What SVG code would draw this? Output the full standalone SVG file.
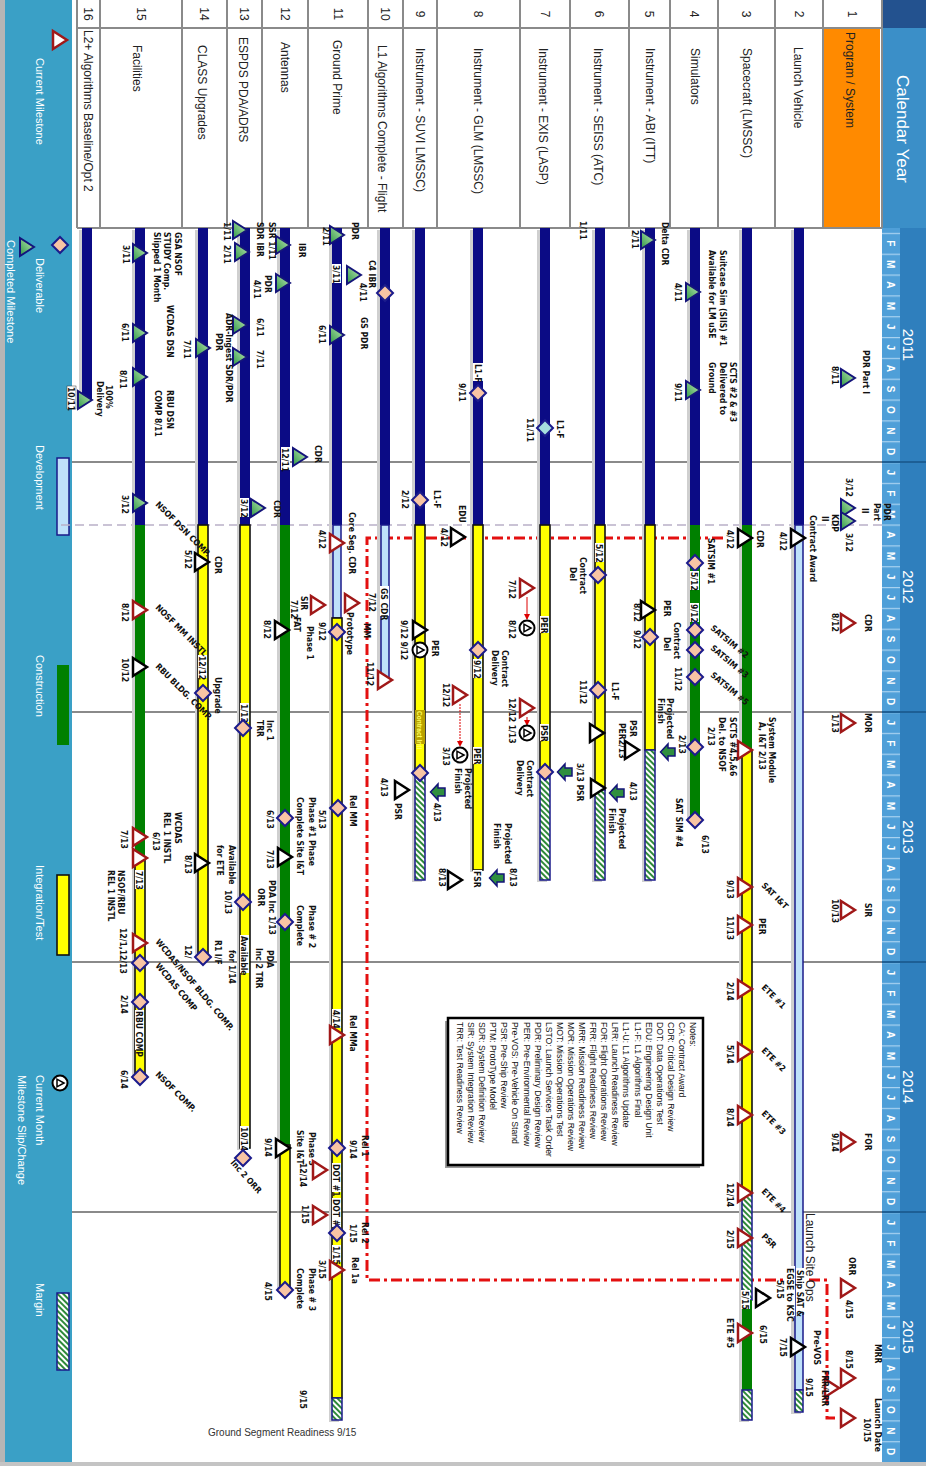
<svg xmlns="http://www.w3.org/2000/svg" xmlns:xlink="http://www.w3.org/1999/xlink" width="926" height="1466" viewBox="0 0 926 1466">
<defs>
<style>
.t{font-family:'Liberation Sans Narrow','DejaVu Sans Condensed','Liberation Sans',Arial,sans-serif;font-size:8.5px;font-weight:bold;fill:#111}
.rl{font-family:'Liberation Sans',Arial,sans-serif;font-size:12px;fill:#222}
.rn{font-family:'Liberation Sans',Arial,sans-serif;font-size:12px;fill:#222;text-anchor:middle}
.lg{font-family:'Liberation Sans Narrow','Liberation Sans',Arial,sans-serif;font-size:11px;fill:#fff}
.mo{font-family:'Liberation Sans',Arial,sans-serif;font-size:10px;font-weight:bold;fill:#fff;text-anchor:middle}
.yr{font-family:'Liberation Sans',Arial,sans-serif;font-size:15px;fill:#fff;text-anchor:middle}
.nt{font-family:'Liberation Sans',Arial,sans-serif;font-size:8.6px;fill:#111}
.nv{fill:#0b0b85}
.gr{fill:#008000}
.ye{fill:#ffff00;stroke:#111;stroke-width:1.6}
.lb{fill:#bfe1fa;stroke:#1a1a8a;stroke-width:1.5}
.ha{fill:url(#hatch);stroke:#1a1a8a;stroke-width:1.5}
.sh{fill:#cfcfcf}
.bx{fill:#fff}
.yl{stroke:#8a8a8a;stroke-width:2}
.rw{stroke:#8a8a8a;stroke-width:2}
</style>
<pattern id="hatch" patternUnits="userSpaceOnUse" width="4" height="4" patternTransform="rotate(45)"><rect width="4" height="4" fill="#fff"/><rect width="2" height="4" fill="#2f8a3a"/></pattern>
<pattern id="mp" x="212" y="26" width="20.8333" height="18" patternUnits="userSpaceOnUse"><rect width="20.8333" height="18" fill="#4f9fd8"/><rect width="1.2" height="18" fill="#a9d2f0"/></pattern>
<linearGradient id="gg" x1="0" y1="0" x2="1" y2="1"><stop offset="0" stop-color="#c4ecb8"/><stop offset="1" stop-color="#2e9846"/></linearGradient>
<g id="tg"><path d="M0,-7 L9,7 L-9,7 Z" fill="url(#gg)" stroke="#14147a" stroke-width="2"/></g>
<g id="tr"><path d="M0,-7 L9,7 L-9,7 Z" fill="#fff" stroke="#a01818" stroke-width="2.5"/></g>
<g id="tk"><path d="M0,-7 L9,7 L-9,7 Z" fill="#fff" stroke="#000" stroke-width="2.5"/></g>
<g id="dm"><path d="M0,-8 L8,0 L0,8 L-8,0 Z" fill="#f8c4a4" stroke="#1b1b8c" stroke-width="2"/></g>
<g id="dt"><path d="M0,-8 L8,0 L0,8 L-8,0 Z" fill="#a6dede" stroke="#1b1b8c" stroke-width="2"/></g>
<g id="ca"><circle r="7.5" fill="#fff" stroke="#000" stroke-width="2"/><path d="M0,-4 L3.8,3 L-3.8,3 Z" fill="none" stroke="#000" stroke-width="1.5"/></g>
<g id="ar"><path d="M-4,-7 H4 V0 H8 L0,7.5 L-8,0 H-4 Z" fill="#2f8f3f" stroke="#14147a" stroke-width="1.5"/></g>
<marker id="ra" markerWidth="6" markerHeight="6" refX="5" refY="3" orient="auto"><path d="M0,0 L6,3 L0,6 Z" fill="#d00"/></marker>
<g id="months">
<text class="mo" x="222.4" y="39">J</text><text class="mo" x="243.3" y="39">F</text><text class="mo" x="264.1" y="39">M</text><text class="mo" x="284.9" y="39">A</text><text class="mo" x="305.8" y="39">M</text><text class="mo" x="326.6" y="39">J</text><text class="mo" x="347.4" y="39">J</text><text class="mo" x="368.3" y="39">A</text><text class="mo" x="389.1" y="39">S</text><text class="mo" x="409.9" y="39">O</text><text class="mo" x="430.8" y="39">N</text><text class="mo" x="451.6" y="39">D</text>
</g>
<g id="mo11">
<text class="mo" x="243.3" y="39">F</text><text class="mo" x="264.1" y="39">M</text><text class="mo" x="284.9" y="39">A</text><text class="mo" x="305.8" y="39">M</text><text class="mo" x="326.6" y="39">J</text><text class="mo" x="347.4" y="39">J</text><text class="mo" x="368.3" y="39">A</text><text class="mo" x="389.1" y="39">S</text><text class="mo" x="409.9" y="39">O</text><text class="mo" x="430.8" y="39">N</text><text class="mo" x="451.6" y="39">D</text>
</g>
</defs>
<rect width="926" height="1466" fill="#fff"/>
<g transform="translate(926 0) rotate(90)">
<!-- legend background -->
<g id="legend">
<rect x="0" y="854" width="1466" height="67" fill="#3aa0c6"/>
<rect x="0" y="921" width="1466" height="5" fill="#b5b5b5"/>
<use href="#tr" x="40" y="866"/>
<text class="lg" x="58" y="890">Current Milestone</text>
<use href="#dm" x="245" y="866"/>
<text class="lg" x="258" y="890">Deliverable</text>
<use href="#tg" x="247" y="899"/>
<text class="lg" x="240" y="919">Completed Milestone</text>
<rect x="458" y="857" width="77" height="12" class="lb"/>
<text class="lg" x="445" y="890">Development</text>
<rect x="665" y="857" width="80" height="12" class="gr"/>
<text class="lg" x="655" y="890">Construction</text>
<rect x="875" y="857" width="80" height="12" class="ye"/>
<text class="lg" x="865" y="890">Integration/Test</text>
<use href="#ca" x="1083" y="866"/>
<text class="lg" x="1075" y="890">Current Month</text>
<text class="lg" x="1075" y="908">Milestone Slip/Change</text>
<rect x="1293" y="857" width="77" height="12" class="ha"/>
<text class="lg" x="1283" y="890">Margin</text>
</g>
<rect x="1462" y="0" width="4" height="926" fill="#c4c4c4"/>
<!-- header -->
<g id="header">
<rect x="0" y="0" width="28" height="44" fill="#23528f"/>
<rect x="28" y="0" width="200" height="44" fill="#3b8fc8"/>
<text x="75" y="29" font-family="'Liberation Sans',Arial,sans-serif" font-size="17" fill="#fff">Calendar Year</text>
<rect x="228" y="0" width="1234" height="26" fill="#2f7fbd"/>
<rect x="228" y="26" width="1234" height="18" fill="url(#mp)"/>
<path d="M462,0V44M712,0V44M962,0V44M1212,0V44" stroke="#1d5f95" stroke-width="2"/>
<text class="yr" x="345" y="23">2011</text>
<text class="yr" x="587" y="23">2012</text>
<text class="yr" x="837" y="23">2013</text>
<text class="yr" x="1087" y="23">2014</text>
<text class="yr" x="1337" y="23">2015</text>
<use href="#mo11"/>
<use href="#months" x="250"/>
<use href="#months" x="500"/>
<use href="#months" x="750"/>
<use href="#months" x="1000"/>
</g>
<!-- row label column -->
<g id="labels">
<rect x="0" y="44" width="228" height="805" fill="#fff"/>
<rect x="28" y="46" width="200" height="57" fill="#ff8a00"/>
<path d="M0,44H228M0,103H228M0,151H228M0,208H228M0,256H228M0,297H228M0,356H228M0,406H228M0,489H228M0,523H228M0,558H228M0,618H228M0,664H228M0,699H228M0,744H228M0,826H228M0,849H228M28,44V849M228,44V849" class="rw" fill="none"/>
<text class="rn" x="14" y="78">1</text><text class="rn" x="14" y="131">2</text><text class="rn" x="14" y="184">3</text><text class="rn" x="14" y="236">4</text><text class="rn" x="14" y="281">5</text><text class="rn" x="14" y="331">6</text><text class="rn" x="14" y="385">7</text><text class="rn" x="14" y="452">8</text><text class="rn" x="14" y="510">9</text><text class="rn" x="14" y="545">10</text><text class="rn" x="14" y="592">11</text><text class="rn" x="14" y="645">12</text><text class="rn" x="14" y="686">13</text><text class="rn" x="14" y="726">14</text><text class="rn" x="14" y="789">15</text><text class="rn" x="14" y="842">16</text>
<text class="rl" x="32" y="80">Program / System</text>
<text class="rl" x="47" y="132">Launch Vehicle</text>
<text class="rl" x="48" y="183">Spacecraft (LMSSC)</text>
<text class="rl" x="48" y="235">Simulators</text>
<text class="rl" x="48" y="280">Instrument - ABI  (ITT)</text>
<text class="rl" x="48" y="332">Instrument - SEISS (ATC)</text>
<text class="rl" x="48" y="387">Instrument - EXIS (LASP)</text>
<text class="rl" x="48" y="452">Instrument - GLM (LMSSC)</text>
<text class="rl" x="48" y="510">Instrument - SUVI LMSSC)</text>
<text class="rl" x="45" y="548">L1 Algorithms Complete - Flight</text>
<text class="rl" x="40" y="593">Ground Prime</text>
<text class="rl" x="42" y="645">Antennas</text>
<text class="rl" x="37" y="687">ESPDS PDA/ADRS</text>
<text class="rl" x="45" y="728">CLASS Upgrades</text>
<text class="rl" x="45" y="793">Facilities</text>
<text class="rl" x="30" y="842">L2+ Algorithms Baseline/Opt 2</text>
</g>
<!-- grid -->
<g id="grid">
<path d="M462,44V854M712,44V854M962,44V854M1212,44V854" class="yl"/>
<path d="M525,44V866" stroke="#b9b0c8" stroke-width="1.5" stroke-dasharray="9 5"/>
</g>
<!-- notes -->
<g id="notes">
<rect x="1021" y="226" width="147" height="255" fill="#9a9a9a"/>
<rect x="1018" y="223" width="147" height="255" fill="#fff" stroke="#000" stroke-width="2.5"/>
<text class="nt" x="1022" y="236">Notes:</text>
<text class="nt" x="1022" y="247.1">CA: Contract Award</text>
<text class="nt" x="1022" y="258.2">CDR: Critical Design Review</text>
<text class="nt" x="1022" y="269.3">DOT: Data Operations Test</text>
<text class="nt" x="1022" y="280.4">EDU: Engineering Design Unit</text>
<text class="nt" x="1022" y="291.5">L1-F: L1 Algorithms Final</text>
<text class="nt" x="1022" y="302.6">L1-U: L1 Algorithms Update</text>
<text class="nt" x="1022" y="313.7">LRR: Launch Readiness Review</text>
<text class="nt" x="1022" y="324.8">FOR: Flight Operations Review</text>
<text class="nt" x="1022" y="335.9">FRR: Flight Readiness Review</text>
<text class="nt" x="1022" y="347">MRR: Mission Readiness Review</text>
<text class="nt" x="1022" y="358.1">MOR: Mission Operations Review</text>
<text class="nt" x="1022" y="369.2">MOT: Mission Operations Test</text>
<text class="nt" x="1022" y="380.3">LSTO: Launch Services Task Order</text>
<text class="nt" x="1022" y="391.4">PDR: Preliminary Design Review</text>
<text class="nt" x="1022" y="402.5">PER: Pre-Environmental Review</text>
<text class="nt" x="1022" y="413.6">Pre-VOS: Pre-Vehicle On Stand</text>
<text class="nt" x="1022" y="424.7">PSR: Pre-Ship Review</text>
<text class="nt" x="1022" y="435.8">PTM: ProtoType Model</text>
<text class="nt" x="1022" y="446.9">SDR: System Definition Review</text>
<text class="nt" x="1022" y="458">SIR: System Integration Review</text>
<text class="nt" x="1022" y="469.1">TRR: Test Readiness Review</text>
</g>
<!-- connectors -->
<g id="connectors">
<path d="M538,203 L538,559 L1280,559 L1280,99 L1418,99 L1418,91" fill="none" stroke="#e41010" stroke-width="3" stroke-dasharray="11 4 3 4"/>
<path d="M597,399 H619" stroke="#d00" stroke-width="1" marker-end="url(#ra)"/>
<path d="M717,399 H725" stroke="#d00" stroke-width="1" marker-end="url(#ra)"/>
<path d="M704,466 H746" stroke="#d00" stroke-width="1" stroke-dasharray="2 1" marker-end="url(#ra)"/>
</g>
<!-- row 1 -->
<g id="row1">
<use href="#tg" x="378" y="78"/><text class="t" x="350" y="63">PDR Part I</text><text class="t" x="366" y="94">8/11</text>
<use href="#tg" x="508" y="78"/><use href="#tg" x="521" y="78"/>
<text class="t" x="503" y="42">PDR</text><text class="t" x="503" y="52">Part</text><text class="t" x="508" y="64">II</text>
<text class="t" x="478" y="80">3/12</text><text class="t" x="514" y="94">KDP</text><text class="t" x="533" y="80">3/12</text><text class="t" x="516" y="104">II</text>
<use href="#tr" x="623" y="78"/><text class="t" x="614" y="61">CDR</text><text class="t" x="613" y="94">8/12</text>
<use href="#tr" x="723" y="78"/><text class="t" x="713" y="61">MOR</text><text class="t" x="714" y="94">1/13</text>
<use href="#tr" x="910" y="78"/><text class="t" x="903" y="61">SIR</text><text class="t" x="899" y="94">10/13</text>
<use href="#tr" x="1142" y="78"/><text class="t" x="1133" y="61">FOR</text><text class="t" x="1133" y="94">9/14</text>
<use href="#tr" x="1288" y="78"/><text class="t" x="1257" y="77">ORR</text><text class="t" x="1300" y="80">4/15</text>
<use href="#tr" x="1378" y="78"/><text class="t" x="1344" y="51">MRR</text><text class="t" x="1350" y="80">8/15</text>
<use href="#tr" x="1388" y="94"/>
<use href="#tr" x="1418" y="78"/><text class="t" x="1398" y="51">Launch Date</text><text class="t" x="1418" y="62">10/15</text>
</g>
<!-- row 2 -->
<g id="row2">
<rect x="230" y="125" width="1184" height="10" class="sh"/>
<rect x="228" y="122" width="297" height="10" class="nv"/>
<rect x="525" y="123" width="865" height="8" class="lb"/>
<rect x="1390" y="123" width="22" height="8" class="ha"/>
<use href="#tk" x="538" y="128"/><text class="t" x="515" y="116">Contract Award</text><text class="t" x="532" y="146">4/12</text>
<text x="1213" y="120" font-family="'Liberation Sans',Arial,sans-serif" font-size="12" fill="#222">Launch Site Ops</text>
<rect x="1268" y="121" width="44" height="9" class="bx"/><text class="t" x="1270" y="129">Ship SAT &amp;</text>
<rect x="1266" y="131" width="50" height="9" class="bx"/><text class="t" x="1268" y="139">EGSE to KSC</text>
<text class="t" x="1280" y="149">5/15</text>
<use href="#tk" x="1347" y="128"/><text class="t" x="1330" y="112">Pre-VOS</text><text class="t" x="1338" y="146">7/15</text>
<text class="t" x="1370" y="104">FRR/LRR</text><text class="t" x="1378" y="120">9/15</text>
</g>
<!-- row 3 -->
<g id="row3">
<rect x="230" y="177" width="1192" height="10" class="sh"/>
<rect x="228" y="174" width="297" height="10" class="nv"/>
<rect x="525" y="174" width="225" height="10" class="gr"/>
<rect x="750" y="174" width="443" height="10" class="ye"/>
<rect x="1193" y="174" width="107" height="10" class="ha"/>
<rect x="1300" y="174" width="90" height="10" class="gr"/>
<rect x="1390" y="174" width="30" height="10" class="ha"/>
<use href="#tk" x="538" y="181"/><text class="t" x="530" y="169">CDR</text><text class="t" x="530" y="199">4/12</text>
<use href="#tr" x="750" y="181"/><text class="t" x="717" y="157">System Module</text><text class="t" x="722" y="167">A, I&amp;T 2/13</text>
<use href="#tr" x="887" y="181"/><text class="t" transform="translate(886 165) rotate(-45)">SAT I&amp;T</text><text class="t" x="880" y="199">9/13</text>
<use href="#tr" x="925" y="181"/><text class="t" x="918" y="167">PER</text><text class="t" x="916" y="199">11/13</text>
<use href="#tr" x="989" y="181"/><text class="t" transform="translate(988 165) rotate(-45)">ETE #1</text><text class="t" x="982" y="199">2/14</text>
<use href="#tr" x="1052" y="181"/><text class="t" transform="translate(1051 165) rotate(-45)">ETE #2</text><text class="t" x="1045" y="199">5/14</text>
<use href="#tr" x="1115" y="181"/><text class="t" transform="translate(1114 165) rotate(-45)">ETE #3</text><text class="t" x="1108" y="199">8/14</text>
<use href="#tr" x="1193" y="181"/><text class="t" transform="translate(1192 165) rotate(-45)">ETE #4</text><text class="t" x="1183" y="199">12/14</text>
<use href="#tr" x="1238" y="181"/><text class="t" transform="translate(1237 165) rotate(-45)">PSR</text><text class="t" x="1230" y="199">2/15</text>
<use href="#tk" x="1298" y="163"/>
<rect x="1290" y="176" width="19" height="9" class="bx"/><text class="t" x="1291" y="184">5/15</text>
<use href="#tr" x="1333" y="181"/><text class="t" x="1318" y="199">ETE #5</text><text class="t" x="1325" y="166">6/15</text>
</g>
<!-- row 4 -->
<g id="row4">
<rect x="230" y="229" width="592" height="10" class="sh"/>
<rect x="228" y="226" width="297" height="10" class="nv"/>
<rect x="525" y="226" width="295" height="10" class="gr"/>
<use href="#tg" x="292" y="233"/><text class="t" x="250" y="206">Suitcase Sim (SIIS) #1</text><text class="t" x="250" y="217">Available for LM uSE</text><text class="t" x="283" y="251">4/11</text>
<use href="#tg" x="390" y="233"/><text class="t" x="362" y="196">SCTS #2 &amp; #3</text><text class="t" x="362" y="206">Delivered to</text><text class="t" x="362" y="217">Ground</text><text class="t" x="383" y="251">9/11</text>
<use href="#dm" x="563" y="231"/><text class="t" x="538" y="218">SATSIM #1</text>
<rect x="571" y="227" width="19" height="9" class="bx"/><text class="t" x="572" y="235">5/12</text>
<rect x="603" y="227" width="19" height="9" class="bx"/><text class="t" x="604" y="235">9/12</text>
<use href="#dm" x="630" y="231"/><text class="t" transform="translate(629 216) rotate(-50)">SATSIM #2</text>
<use href="#dm" x="650" y="231"/><text class="t" transform="translate(649 216) rotate(-50)">SATSIM #3</text>
<use href="#dm" x="677" y="231"/><text class="t" transform="translate(676 216) rotate(-50)">SATSIM #5</text>
<text class="t" x="667" y="251">11/12</text>
<use href="#dm" x="747" y="231"/><text class="t" x="717" y="196">SCTS #4,5,&amp;6</text><text class="t" x="717" y="207">Del. to NSOF</text><text class="t" x="727" y="218">2/13</text><text class="t" x="735" y="247">2/13</text>
<use href="#dm" x="820" y="231"/><text class="t" x="835" y="224">6/13</text><text class="t" x="798" y="250">SAT SIM #4</text>
</g>
<!-- row 5 -->
<g id="row5">
<rect x="230" y="274" width="652" height="10" class="sh"/>
<rect x="228" y="271" width="297" height="10" class="nv"/>
<rect x="525" y="271" width="225" height="10" class="ye"/>
<rect x="750" y="271" width="130" height="10" class="ha"/>
<use href="#tg" x="240" y="278"/><text class="t" x="222" y="264">Delta CDR</text><text class="t" x="230" y="294">2/11</text>
<use href="#tk" x="610" y="278"/><text class="t" x="600" y="262">PER</text><text class="t" x="603" y="292">8/12</text>
<use href="#dm" x="637" y="276"/><text class="t" x="622" y="252">Contract</text><text class="t" x="637" y="262">Del</text><text class="t" x="630" y="292">9/12</text>
<text class="t" x="698" y="259">Projected</text><text class="t" x="698" y="268">Finish</text>
<use href="#ar" x="752" y="258"/>
<text class="t" x="720" y="296">PSR</text><text class="t" x="723" y="307">PER2/13</text>
<use href="#tk" x="750" y="294"/>
</g>
<!-- row 6 -->
<g id="row6">
<rect x="230" y="324" width="652" height="10" class="sh"/>
<rect x="228" y="321" width="297" height="10" class="nv"/>
<rect x="525" y="321" width="265" height="10" class="ye"/>
<rect x="790" y="321" width="90" height="10" class="ha"/>
<text class="t" x="221" y="346">1/11</text>
<rect x="543" y="322" width="19" height="9" class="bx"/><text class="t" x="544" y="330">5/12</text>
<use href="#dm" x="575" y="328"/><text class="t" x="557" y="346">Contract</text><text class="t" x="567" y="356">Del</text>
<use href="#dm" x="690" y="328"/><text class="t" x="682" y="314">L1-F</text><text class="t" x="680" y="346">11/12</text>
<use href="#tk" x="733" y="329"/>
<text class="t" x="763" y="349">3/13 PSR</text>
<use href="#tk" x="788" y="328"/><use href="#ar" x="793" y="309"/>
<text class="t" x="782" y="296">4/13</text><text class="t" x="808" y="307">Projected</text><text class="t" x="808" y="317">Finish</text>
</g>
<!-- row 7 -->
<g id="row7">
<rect x="230" y="379" width="652" height="10" class="sh"/>
<rect x="228" y="376" width="297" height="10" class="nv"/>
<rect x="525" y="376" width="247" height="10" class="ye"/>
<rect x="772" y="376" width="108" height="10" class="ha"/>
<use href="#dt" x="428" y="381"/><text class="t" x="420" y="369">L1-F</text><text class="t" x="418" y="399">11/11</text>
<use href="#tr" x="588" y="399"/><text class="t" x="580" y="417">7/12</text>
<use href="#ca" x="628" y="399"/><text class="t" x="620" y="417">8/12</text>
<rect x="616" y="377" width="17" height="9" class="bx"/><text class="t" x="617" y="385">PER</text>
<use href="#tr" x="708" y="399"/><use href="#ca" x="733" y="399"/><text class="t" x="698" y="417">12/12 1/13</text>
<rect x="724" y="377" width="17" height="9" class="bx"/><text class="t" x="725" y="385">PSR</text>
<use href="#dm" x="772" y="381"/><use href="#ar" x="772" y="361"/>
<text class="t" x="760" y="399">Contract</text><text class="t" x="760" y="409">Delivery</text>
<text class="t" x="650" y="424">Contract</text><text class="t" x="650" y="434">Delivery</text>
</g>
<!-- row 8 -->
<g id="row8">
<rect x="230" y="446" width="642" height="10" class="sh"/>
<rect x="228" y="443" width="297" height="10" class="nv"/>
<rect x="525" y="443" width="345" height="10" class="ye"/>
<rect x="363" y="443" width="18" height="10" class="bx"/><text class="t" x="364" y="451">L1-F</text>
<use href="#dm" x="393" y="448"/><text class="t" x="383" y="467">9/11</text>
<use href="#dm" x="650" y="448"/>
<rect x="659" y="444" width="19" height="9" class="bx"/><text class="t" x="660" y="452">9/12</text>
<rect x="747" y="444" width="17" height="9" class="bx"/><text class="t" x="748" y="452">PER</text>
<text class="t" x="823" y="421">Projected</text><text class="t" x="823" y="432">Finish</text>
<use href="#ar" x="878" y="429"/><text class="t" x="868" y="416">8/13</text>
<rect x="870" y="444" width="17" height="9" class="bx"/><text class="t" x="871" y="452">FSR</text>
</g>
<!-- row 9 -->
<g id="row9">
<rect x="230" y="504" width="652" height="10" class="sh"/>
<rect x="228" y="501" width="297" height="10" class="nv"/>
<rect x="525" y="501" width="248" height="10" class="ye"/>
<rect x="773" y="501" width="107" height="10" class="ha"/>
<use href="#dm" x="500" y="506"/><text class="t" x="490" y="492">L1-F</text><text class="t" x="490" y="524">2/12</text>
<use href="#tk" x="537" y="468"/><text class="t" x="505" y="467">EDU</text><text class="t" x="528" y="485">4/12</text>
<use href="#tk" x="630" y="506"/><use href="#ca" x="650" y="506"/><text class="t" x="620" y="525">9/12 9/12</text><text class="t" x="640" y="494">PER</text>
<use href="#tr" x="695" y="466"/><text class="t" x="683" y="483">12/12</text>
<use href="#ca" x="755" y="466"/><text class="t" x="747" y="483">3/13</text>
<text class="t" x="768" y="461">Projected</text><text class="t" x="768" y="471">Finish</text>
<rect x="710" y="501" width="34" height="10" fill="#b8a200"/><text x="711" y="509" font-family="'Liberation Sans',Arial,sans-serif" font-size="6.5" font-weight="bold" fill="#ffff60">Contract Intl</text>
<use href="#dm" x="773" y="506"/><use href="#ar" x="792" y="488"/><text class="t" x="803" y="492">4/13</text>
<use href="#tk" x="790" y="524"/><text class="t" x="803" y="531">PSR</text><text class="t" x="778" y="545">4/13</text>
<use href="#tk" x="880" y="471"/><text class="t" x="868" y="487">8/13</text>
</g>
<!-- row 10 -->
<g id="row10">
<rect x="230" y="539" width="452" height="10" class="sh"/>
<rect x="228" y="536" width="297" height="10" class="nv"/>
<rect x="525" y="537" width="155" height="8" class="lb"/>
<use href="#dm" x="293" y="541"/><text class="t" x="260" y="557">C4 IBR</text><text class="t" x="283" y="566">4/11</text>
<text class="t" x="317" y="565">GS PDR</text>
<rect x="586" y="537" width="30" height="9" class="bx"/><text class="t" x="588" y="545">GS CDR</text>
<use href="#tr" x="603" y="574"/><text class="t" x="593" y="557">7/12</text>
<text class="t" x="623" y="562">MM</text><text class="t" x="612" y="579">Prototype</text>
<use href="#tr" x="680" y="541"/><text class="t" x="662" y="559">11/12</text>
</g>
<!-- row 11 -->
<g id="row11">
<rect x="230" y="587" width="1192" height="10" class="sh"/>
<rect x="228" y="584" width="297" height="10" class="nv"/>
<rect x="525" y="585" width="93" height="8" class="lb"/>
<rect x="618" y="584" width="780" height="10" class="ye"/>
<rect x="1398" y="584" width="22" height="10" class="ha"/>
<use href="#tg" x="235" y="589"/><text class="t" x="222" y="574">PDR</text><text class="t" x="227" y="603">2/11</text>
<use href="#tg" x="275" y="572"/><rect x="264" y="585" width="19" height="9" class="bx"/><text class="t" x="265" y="593">3/11</text>
<use href="#tg" x="335" y="589"/><text class="t" x="325" y="607">6/11</text>
<use href="#tr" x="543" y="589"/><text class="t" x="512" y="577">Core Seg. CDR</text><text class="t" x="530" y="607">4/12</text>
<use href="#dm" x="632" y="589"/><text class="t" x="622" y="607">9/12</text><text class="t" x="626" y="619">Phase 1</text>
<use href="#tr" x="605" y="608"/><text class="t" x="596" y="625">SIR</text><text class="t" x="617" y="632">FAT</text><text class="t" x="600" y="635">7/12</text>
<use href="#dm" x="808" y="588"/><text class="t" x="795" y="576">Rel MM</text><text class="t" x="810" y="607">5/13</text>
<rect x="1009" y="585" width="19" height="9" class="bx"/><text class="t" x="1010" y="593">4/14</text>
<use href="#tr" x="1035" y="589"/><text class="t" x="1015" y="576">Rel MMa</text>
<use href="#dm" x="1148" y="589"/><text class="t" x="1135" y="564">Rel 1</text><text class="t" x="1140" y="576">9/14</text>
<rect x="1163" y="585" width="29" height="9" class="bx"/><text class="t" x="1164" y="593">DOT #1</text>
<rect x="1198" y="585" width="29" height="9" class="bx"/><text class="t" x="1199" y="593">DOT #2</text>
<use href="#dm" x="1233" y="589"/><text class="t" x="1222" y="564">Rel 2</text><text class="t" x="1224" y="576">1/15</text>
<rect x="1245" y="585" width="17" height="9" class="bx"/><text class="t" x="1246" y="593">1/15</text>
<use href="#tr" x="1270" y="589"/><text class="t" x="1257" y="574">Rel 1a</text><text class="t" x="1260" y="607">3/15</text>
<text class="t" x="1390" y="626">9/15</text>
</g>
<!-- row 12 -->
<g id="row12">
<rect x="230" y="639" width="1062" height="10" class="sh"/>
<rect x="228" y="636" width="297" height="10" class="nv"/>
<rect x="525" y="636" width="620" height="10" class="gr"/>
<rect x="1145" y="636" width="145" height="10" class="ye"/>
<use href="#tg" x="245" y="643"/><text class="t" x="243" y="627">IBR</text>
<use href="#tg" x="283" y="643"/><text class="t" x="275" y="661">PDR</text><text class="t" x="280" y="672">4/11</text>
<text class="t" x="222" y="657">SSR 1/11</text>
<use href="#tg" x="457" y="626"/><text class="t" x="445" y="611">CDR</text>
<rect x="447" y="636" width="23" height="9" class="bx"/><text class="t" x="448" y="644">12/11</text>
<use href="#tg" x="508" y="668"/><text class="t" x="500" y="652">CDR</text>
<use href="#tk" x="630" y="644"/><text class="t" x="620" y="662">8/12</text>
<use href="#dm" x="818" y="641"/><text class="t" x="797" y="617">Phase #1 Phase</text><text class="t" x="797" y="629">Complete Site I&amp;T</text><text class="t" x="810" y="659">6/13</text>
<use href="#tk" x="857" y="641"/><text class="t" x="850" y="659">7/13</text>
<use href="#dm" x="922" y="641"/><text class="t" x="905" y="617">Phase # 2</text><text class="t" x="905" y="629">Complete</text>
<use href="#tk" x="1148" y="643"/><text class="t" x="1138" y="661">9/14</text><text class="t" x="1132" y="617">Phase 3</text><text class="t" x="1130" y="629">Site I&amp;T</text>
<use href="#tr" x="1170" y="606"/><text class="t" x="1163" y="626">12/14</text>
<use href="#tr" x="1215" y="606"/><text class="t" x="1205" y="624">1/15</text>
<use href="#dm" x="1290" y="641"/><text class="t" x="1268" y="617">Phase # 3</text><text class="t" x="1268" y="629">Complete</text><text class="t" x="1282" y="661">4/15</text>
</g>
<!-- row 13 -->
<g id="row13">
<rect x="230" y="679" width="920" height="10" class="sh"/>
<rect x="228" y="676" width="297" height="10" class="nv"/>
<rect x="525" y="676" width="623" height="10" class="ye"/>
<use href="#tg" x="230" y="686"/><use href="#tg" x="252" y="684"/>
<text class="t" x="222" y="669">SDR  IBR</text><text class="t" x="222" y="702">1/11</text><text class="t" x="245" y="702">2/11</text>
<use href="#tg" x="325" y="686"/><text class="t" x="318" y="669">6/11</text>
<use href="#tg" x="357" y="686"/><text class="t" x="350" y="669">7/11</text>
<text class="t" x="313" y="700">ADR-Ingest SDR/PDR</text><text class="t" x="333" y="710">PDR</text>
<rect x="498" y="677" width="19" height="9" class="bx"/><text class="t" x="499" y="685">3/12</text>
<rect x="703" y="677" width="19" height="9" class="bx"/><text class="t" x="704" y="685">1/13</text>
<use href="#dm" x="728" y="683"/><text class="t" x="720" y="659">Inc 1</text><text class="t" x="720" y="669">TRR</text>
<use href="#dm" x="902" y="683"/><text class="t" x="880" y="657">PDA Inc 1/13</text><text class="t" x="888" y="668">ORR</text><text class="t" x="890" y="701">10/13</text>
<text class="t" x="845" y="697">Available</text><text class="t" x="845" y="709">for ETE</text>
<text class="t" x="950" y="659">PDA</text><text class="t" x="948" y="670">Inc 2 TRR</text>
<rect x="935" y="677" width="38" height="9" class="bx"/><text class="t" x="936" y="685">Available</text>
<text class="t" x="950" y="697">for 1/14</text>
<rect x="1126" y="677" width="23" height="9" class="bx"/><text class="t" x="1127" y="685">10/14</text>
<use href="#dm" x="1158" y="683"/><text class="t" transform="translate(1163 696) rotate(-42)">Inc 2 ORR</text>
</g>
<!-- row 14 -->
<g id="row14">
<rect x="230" y="721" width="729" height="10" class="sh"/>
<rect x="228" y="718" width="297" height="10" class="nv"/>
<rect x="525" y="718" width="432" height="10" class="ye"/>
<use href="#tg" x="348" y="723"/><text class="t" x="340" y="742">7/11</text>
<use href="#tk" x="562" y="724"/><text class="t" x="556" y="711">CDR</text><text class="t" x="550" y="741">5/12</text>
<rect x="655" y="719" width="23" height="9" class="bx"/><text class="t" x="656" y="727">12/12</text>
<use href="#dm" x="693" y="723"/><text class="t" x="677" y="711">Upgrade</text>
<use href="#tk" x="863" y="724"/><text class="t" x="855" y="741">8/13</text>
<use href="#dm" x="957" y="723"/><text class="t" x="940" y="711">R1 I/F</text><text class="t" x="945" y="741">12/</text>
</g>
<!-- row 15 -->
<g id="row15">
<rect x="230" y="784" width="849" height="10" class="sh"/>
<rect x="228" y="781" width="297" height="10" class="nv"/>
<rect x="525" y="781" width="332" height="10" class="gr"/>
<rect x="857" y="781" width="220" height="10" class="ye"/>
<use href="#tg" x="253" y="786"/><text class="t" x="232" y="751">GSA NSOF</text><text class="t" x="232" y="762">STUDY Comp.</text><text class="t" x="232" y="772">Slipped 1 Month</text><text class="t" x="245" y="803">3/11</text>
<use href="#tg" x="333" y="786"/><text class="t" x="305" y="759">WCDAS DSN</text><text class="t" x="323" y="804">6/11</text>
<use href="#tg" x="377" y="786"/><text class="t" x="370" y="806">8/11</text><text class="t" x="390" y="759">RBU DSN</text><text class="t" x="390" y="771">COMP 8/11</text>
<use href="#tg" x="503" y="786"/><text class="t" x="495" y="804">3/12</text><text class="t" transform="translate(505 771) rotate(-45)">NSOF DSN COMP.</text>
<use href="#tr" x="610" y="786"/><text class="t" x="603" y="804">8/12</text><text class="t" transform="translate(608 771) rotate(-45)">NOSF MM INSTL</text>
<use href="#tk" x="667" y="786"/><text class="t" x="658" y="804">10/12</text><text class="t" transform="translate(667 771) rotate(-45)">RBU BLDG. COMP.</text>
<use href="#tr" x="837" y="786"/><text class="t" x="812" y="751">WCDAS</text><text class="t" x="812" y="762">REL 1 INSTL</text><text class="t" x="832" y="773">6/13</text>
<use href="#tr" x="858" y="786"/><text class="t" x="830" y="805">7/13</text>
<rect x="870" y="782" width="19" height="9" class="bx"/><text class="t" x="871" y="790">7/13</text>
<text class="t" x="870" y="808">NSOF/RBU</text><text class="t" x="870" y="818">REL 1 INSTL</text>
<use href="#tr" x="943" y="786"/><text class="t" x="928" y="806">12/1,12/13</text>
<use href="#dm" x="963" y="786"/>
<text class="t" transform="translate(942 771) rotate(-40)">WCDAS/NSOF BLDG. COMP.</text>
<text class="t" transform="translate(966 771) rotate(-40)">WCDAS COMP</text>
<use href="#dm" x="1002" y="786"/><text class="t" x="995" y="805">2/14</text>
<rect x="1010" y="782" width="40" height="9" class="bx"/><text class="t" x="1011" y="790">RBU COMP</text>
<use href="#dm" x="1077" y="786"/><text class="t" x="1070" y="805">6/14</text><text class="t" transform="translate(1075 771) rotate(-45)">NSOF COMP.</text>
</g>
<!-- row 16 -->
<g id="row16">
<rect x="230" y="837" width="172" height="10" class="sh"/>
<rect x="228" y="834" width="172" height="10" class="nv"/>
<use href="#tg" x="400" y="841"/>
<text class="t" x="385" y="820">100%</text><text class="t" x="381" y="829">Delivery</text>
<rect x="386" y="850" width="23" height="9" class="bx" stroke="#333" stroke-width="0.5"/><text class="t" x="387" y="858">10/11</text>
</g>
</g>
<text x="208" y="1436" font-family="'Liberation Sans',Arial,sans-serif" font-size="10" fill="#333">Ground Segment Readiness 9/15</text>
</svg>
